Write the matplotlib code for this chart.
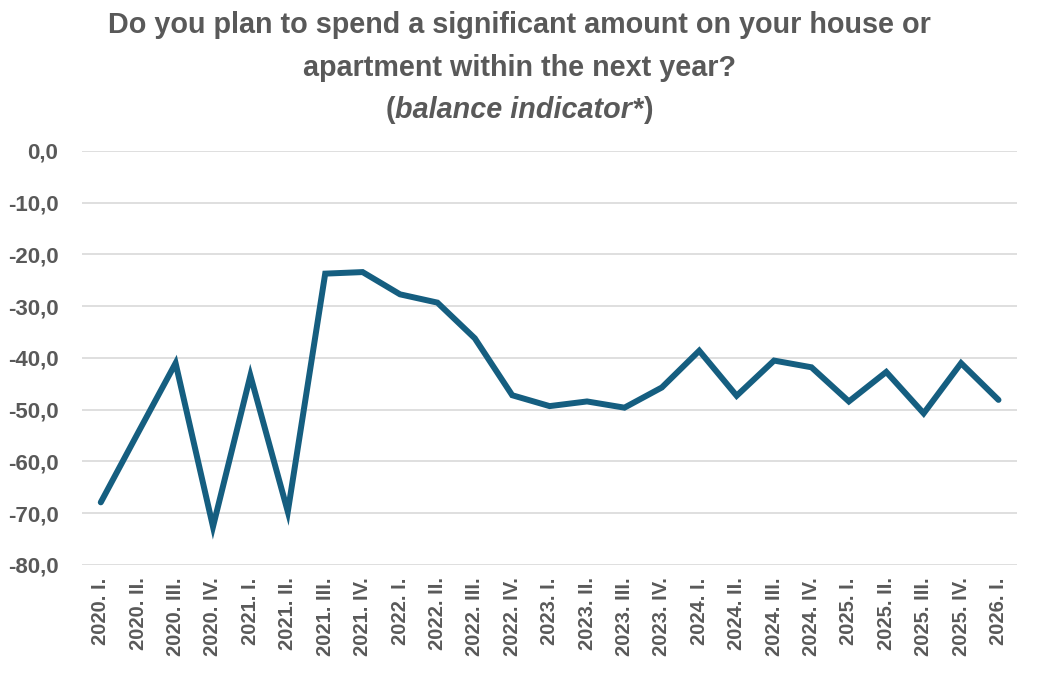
import matplotlib
matplotlib.use('Agg')
import matplotlib.pyplot as plt

# quarters and balance indicator values
quarters = ['2020. I.', '2020. II.', '2020. III.', '2020. IV.',
            '2021. I.', '2021. II.', '2021. III.', '2021. IV.',
            '2022. I.', '2022. II.', '2022. III.', '2022. IV.',
            '2023. I.', '2023. II.', '2023. III.', '2023. IV.',
            '2024. I.', '2024. II.', '2024. III.', '2024. IV.',
            '2025. I.', '2025. II.', '2025. III.', '2025. IV.',
            '2026. I.']
balance = [-67.9, -54.4, -41.0, -72.6,
           -43.4, -69.7, -23.7, -23.4,
           -27.7, -29.3, -36.2, -47.2,
           -49.3, -48.4, -49.6, -45.7,
           -38.6, -47.3, -40.5, -41.8,
           -48.4, -42.7, -50.7, -41.0,
           -48.1]
yticks = [0, -10, -20, -30, -40, -50, -60, -70, -80]

LINE = '#155E80'
TXT = '#595959'
GRID = '#D9D9D9'
TITLE_FONT = ['Liberation Sans Narrow', 'Liberation Sans', 'DejaVu Sans']

fig = plt.figure(figsize=(10.39, 6.82), dpi=100)
fig.patch.set_facecolor('white')
ax = fig.add_axes([0.079, 0.1716, 0.900, 0.607])

x = range(len(quarters))
ax.plot(x, balance, color=LINE, linewidth=4.3, solid_joinstyle='miter',
        solid_capstyle='round', zorder=3)

ax.set_xlim(-0.5, len(quarters) - 0.5)
ax.set_ylim(-80, 0)
ax.set_yticks(yticks)
ax.set_yticklabels([f'{v:.1f}'.replace('.', ',') for v in yticks],
                   fontsize=16, fontweight='bold', color=TXT,
                   family='Liberation Sans')
ax.set_xticks(list(x))
ax.set_xticklabels(quarters, rotation=90, fontsize=14.5, fontweight='bold',
                   color=TXT, family='Liberation Sans')
ax.tick_params(length=0)
ax.tick_params(axis='y', pad=17)
ax.tick_params(axis='x', pad=9)
ax.grid(True, axis='y', color=GRID, linewidth=1.2)
ax.set_axisbelow(True)
for s in ax.spines.values():
    s.set_visible(False)

# title, three lines, the last one partly italic
fig.text(0.5, 0.964, 'Do you plan to spend a significant amount on your house or',
         ha='center', va='center', fontsize=20.7, fontweight='bold', color=TXT,
         family=TITLE_FONT)
fig.text(0.5, 0.901, 'apartment within the next year?',
         ha='center', va='center', fontsize=20.7, fontweight='bold', color=TXT,
         family=TITLE_FONT)
mid = fig.text(0.5, 0.839, 'balance indicator*', ha='center', va='center',
               fontsize=20.7, fontweight='bold', fontstyle='italic', color=TXT,
               family=TITLE_FONT)
ax.annotate('(', xy=(0, 0.5), xycoords=mid, ha='right', va='center',
            fontsize=20.7, fontweight='bold', color=TXT, family=TITLE_FONT,
            annotation_clip=False)
ax.annotate(')', xy=(1, 0.5), xycoords=mid, ha='left', va='center',
            fontsize=20.7, fontweight='bold', color=TXT, family=TITLE_FONT,
            annotation_clip=False)

plt.savefig('out.png', dpi=100, facecolor='white')
plt.close()
